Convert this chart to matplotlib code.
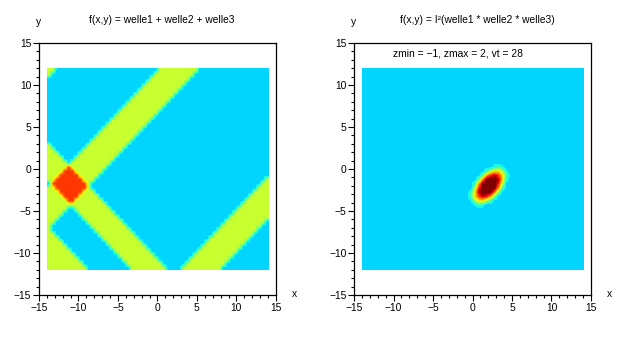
import numpy as np
import matplotlib
matplotlib.use("Agg")
import matplotlib.pyplot as plt
from matplotlib.ticker import MultipleLocator

plt.rcParams['font.family'] = ['Liberation Sans', 'DejaVu Sans']
plt.rcParams['font.size'] = 7.4

# left picture: bands, as intervals of x-y (rising) or x+y (falling)
welle1 = [(-11.6, -6.8), (14.8, 19.5)]     # x - y
welle2 = [(-25.7, -20.8), (-15.2, -10.7)]  # x + y
welle3 = [(-30.0, -24.8)]                  # x - y, top left corner
amp = 0.75

# right picture: blob values, rows y = 0.75 .. -4.75, columns x = -0.25 .. 4.25 (step 0.5)
blob = [
    [0, 0, 0, 0, 0, 0, 0, 0, 0, 0],
    [0, 0, 0, 0, 0, 0, 0.2, 0.3, 0.1, 0],
    [0, 0, 0, 0, 0.3, 0.7, 1.0, 1.0, 0.6, 0.1],
    [0, 0, 0, 0.5, 1.2, 1.6, 1.8, 1.5, 1.0, 0.3],
    [0, 0, 0.5, 1.3, 2.0, 2.0, 2.0, 1.8, 1.0, 0.2],
    [0, 0.3, 1.2, 2.0, 2.0, 2.0, 2.0, 1.6, 0.7, 0],
    [0, 0.7, 1.6, 2.0, 2.0, 2.0, 2.0, 1.2, 0.3, 0],
    [0.2, 1.0, 1.8, 2.0, 2.0, 2.0, 1.3, 0.5, 0, 0],
    [0.3, 1.0, 1.5, 1.8, 1.6, 1.2, 0.5, 0, 0, 0],
    [0.1, 0.6, 1.0, 1.0, 0.7, 0.3, 0, 0, 0, 0],
    [0, 0.1, 0.3, 0.2, 0, 0, 0, 0, 0, 0],
    [0, 0, 0, 0, 0, 0, 0, 0, 0, 0],
]

zmin, zmax, vt = -1, 2, 28
titles = ["f(x,y) = welle1 + welle2 + welle3", "f(x,y) = I²(welle1 * welle2 * welle3)"]

xc = np.arange(-13.75, 14, 0.5)
yc = np.arange(-11.75, 12, 0.5)
X, Y = np.meshgrid(xc, yc)

z1 = np.zeros_like(X)
for lo, hi in welle1 + welle3:
    z1 += amp * ((X - Y >= lo) & (X - Y <= hi))
for lo, hi in welle2:
    z1 += amp * ((X + Y >= lo) & (X + Y <= hi))

z2 = np.zeros_like(X)
z2[14:26, 27:37] = np.flipud(np.array(blob))

cmap = plt.get_cmap('jet', vt)

fig = plt.figure(figsize=(6.3, 3.37), dpi=100)
axes = [fig.add_axes([0.0619, 0.1246, 0.376, 0.7478]),
        fig.add_axes([0.562, 0.1246, 0.376, 0.7478])]

for ax, z, title in zip(axes, [z1, z2], titles):
    ax.imshow(z, origin='lower', extent=(-14, 14, -12, 12), cmap=cmap,
              vmin=zmin, vmax=zmax, interpolation='bilinear',
              interpolation_stage='data', aspect='auto')
    ax.set_xlim(-15, 15)
    ax.set_ylim(-15, 15)
    ax.set_xticks(range(-15, 16, 5))
    ax.set_yticks(range(-15, 16, 5))
    ax.xaxis.set_minor_locator(MultipleLocator(1))
    ax.yaxis.set_minor_locator(MultipleLocator(1))
    ax.tick_params(which='major', direction='out', length=4, width=0.8, pad=1.5)
    ax.tick_params(which='minor', direction='out', length=2.5, width=0.8)
    for s in ax.spines.values():
        s.set_linewidth(0.9)

    pos = ax.get_position()
    fig.text(pos.x0 + pos.width * 0.52, 0.9407, title, ha='center', va='center')
    fig.text(pos.x0 - 0.001, 0.9347, "y", ha='center', va='center')
    fig.text(pos.x1 + 0.029, 0.1276, "x", ha='center', va='center')

axes[1].text(-10.1, 13.8, "zmin = −1, zmax = 2, vt = 28", va='center')

fig.savefig("out.png", dpi=100)
